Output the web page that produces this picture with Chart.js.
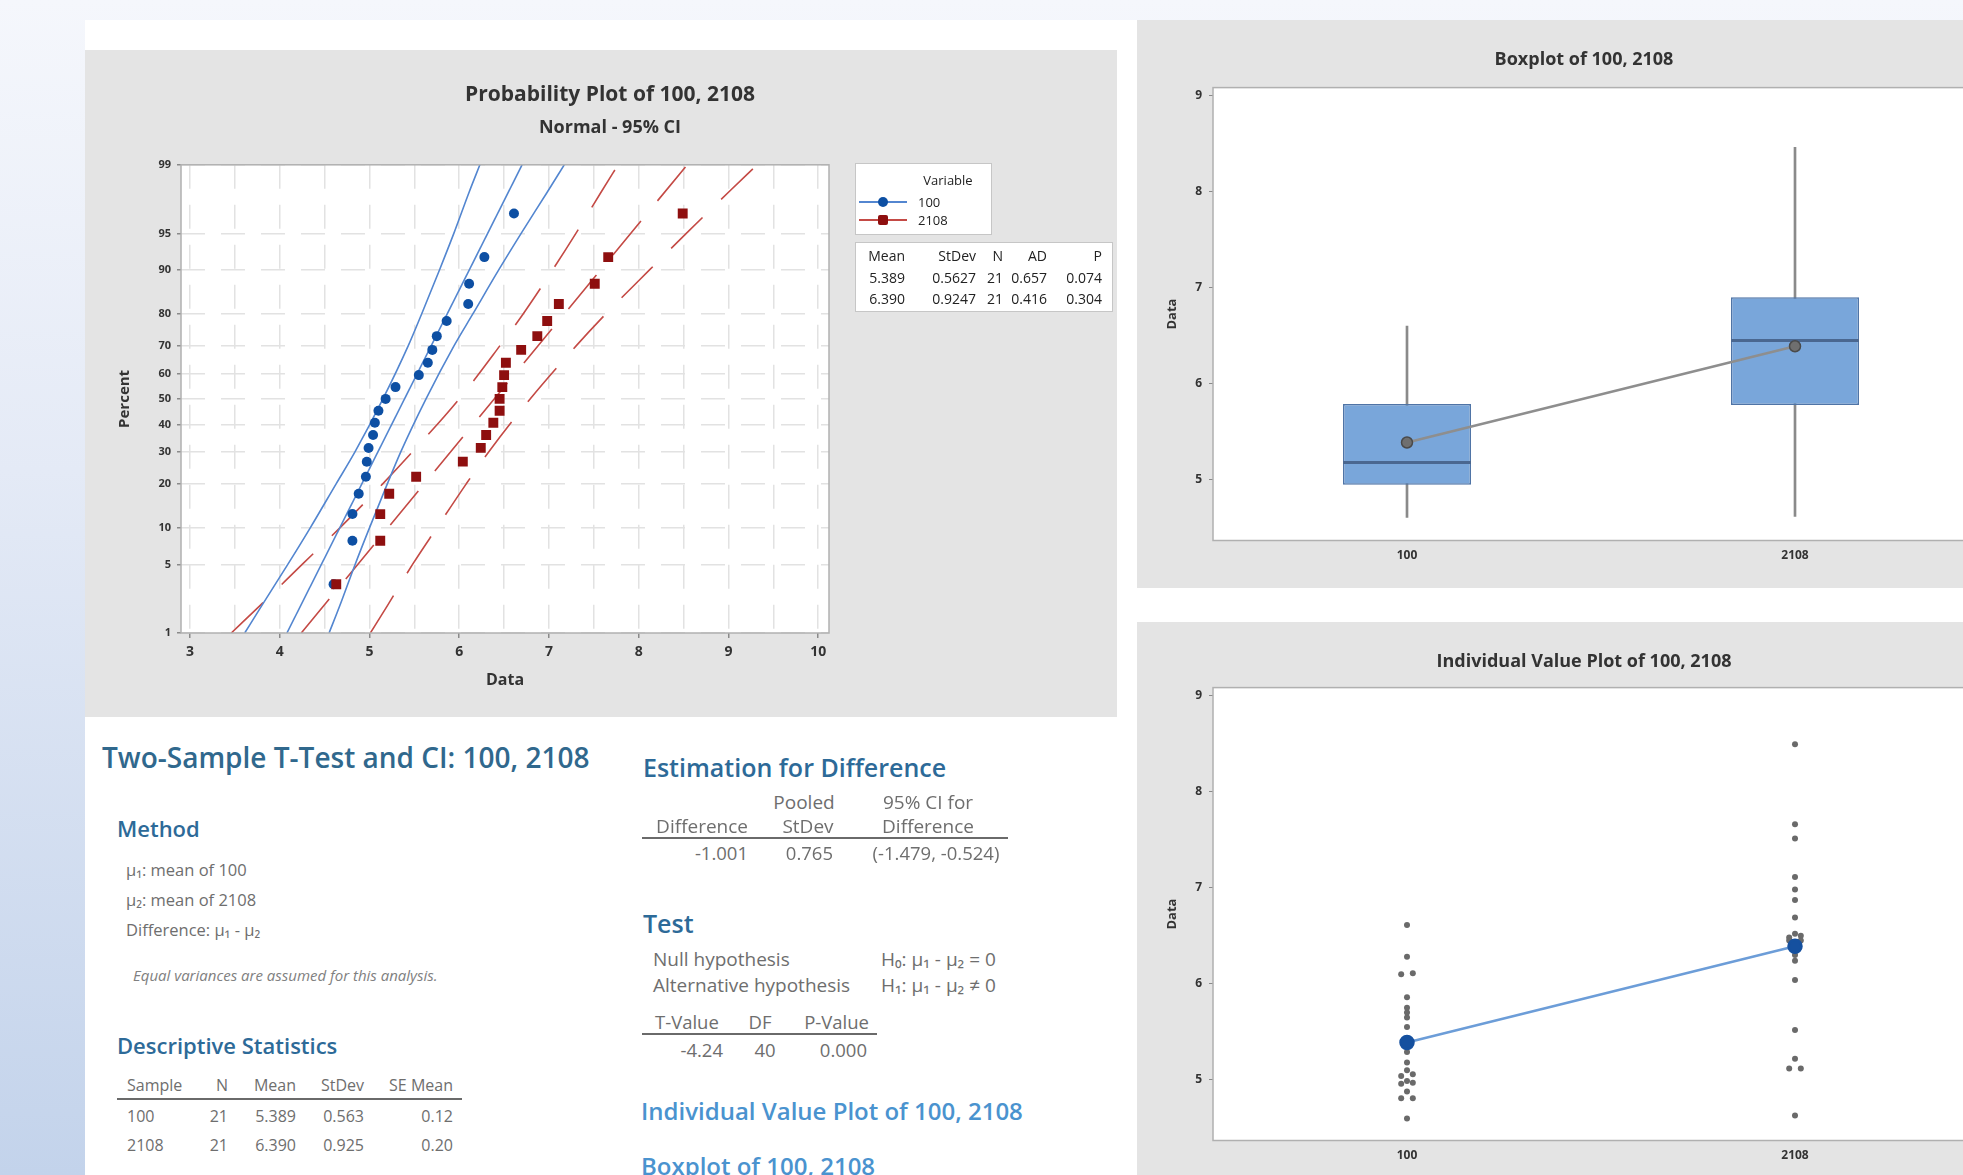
<!DOCTYPE html>
<html>
<head>
<meta charset="utf-8">
<title>Two-Sample T-Test and CI: 100, 2108</title>
<script src="https://cdn.jsdelivr.net/npm/chart.js@4.4.1/dist/chart.umd.min.js"></script>
<style>
  html, body { margin: 0; padding: 0; }
  body {
    position: relative; width: 1963px; height: 1175px; overflow: hidden;
    background: linear-gradient(to bottom, #f5f7fc 0%, #e4eaf6 40%, #c3d3eb 100%);
    font-family: "Open Sans", "Noto Sans", sans-serif;
  }
  .sheet { position: absolute; left: 85px; top: 20px; width: 1878px; height: 1155px; background: #fff; }
  .panel { position: absolute; background: #e4e4e4; }
  .wrap { position: absolute; }
  .txt { position: absolute; white-space: nowrap; line-height: 1.4; color: #6e6e6e; }
  .h1 { color: #30688d; font-weight: 600; }
  .h2 { color: #2d6a98; font-weight: 600; }
  .h3 { color: #4a93cf; font-weight: 600; }
  .it { font-style: italic; color: #808080; }
  .dark { color: #222; }
  .rule { position: absolute; height: 0; border-top: 2px solid #6a6a6a; }
  .lg { position: absolute; background: #fff; border: 1px solid #c6c6c6; box-sizing: border-box; }
  .mk { position: absolute; }
</style>
</head>
<body>
<div class="sheet"></div>
<div class="panel" style="left:85px; top:50px; width:1032px; height:667px;"></div>
<div class="panel" style="left:1137px; top:20px; width:840px; height:568px;"></div>
<div class="panel" style="left:1137px; top:622px; width:840px; height:600px;"></div>

<div class="wrap" style="left:85px; top:50px; width:1050px; height:667px;"><canvas id="probChart"></canvas></div>
<div class="wrap" style="left:1137px; top:20px; width:894px; height:568px;"><canvas id="boxChart"></canvas></div>
<div class="wrap" style="left:1137px; top:622px; width:894px; height:580px;"><canvas id="ivpChart"></canvas></div>

<div class="lg" style="left:855px; top:163px; width:137px; height:72px;"></div>
<div class="lg" style="left:855px; top:242px; width:258px; height:70px;"></div>
<div id="text"></div>

<script>
// sample values, sorted
var groups = ['100', '2108'];
var val100 = [4.60, 4.81, 4.81, 4.88, 4.96, 4.97, 4.99, 5.04, 5.06, 5.10, 5.18, 5.29, 5.55, 5.65, 5.70, 5.75, 5.86, 6.10, 6.11, 6.28, 6.61];
var val2108 = [4.63, 5.12, 5.12, 5.22, 5.52, 6.04, 6.24, 6.30, 6.38, 6.45, 6.45, 6.48, 6.50, 6.52, 6.69, 6.87, 6.98, 7.11, 7.51, 7.66, 8.49];
var plotPct = [3.27, 7.94, 12.62, 17.29, 21.96, 26.64, 31.31, 35.98, 40.65, 45.33, 50.00, 54.67, 59.35, 64.02, 68.69, 73.36, 78.04, 82.71, 87.38, 92.06, 96.73];

// fitted lines and 95% CI bands
var fitPct = [1, 99];
var fit100 = [4.08, 6.70];
var fit2108 = [4.24, 8.54];
var ciPct = [1, 2, 5, 10, 20, 30, 50, 70, 80, 90, 95, 98, 99];
var ciLow100 = [3.61, 3.80, 4.09, 4.34, 4.63, 4.84, 5.15, 5.43, 5.58, 5.78, 5.94, 6.11, 6.23];
var ciHigh100 = [4.55, 4.67, 4.84, 5.00, 5.20, 5.35, 5.63, 5.94, 6.15, 6.44, 6.69, 6.98, 7.17];
var ciLow2108 = [3.46, 3.78, 4.25, 4.67, 5.15, 5.48, 6.00, 6.45, 6.71, 7.04, 7.30, 7.58, 7.77];
var ciHigh2108 = [5.01, 5.20, 5.48, 5.75, 6.08, 6.33, 6.79, 7.30, 7.63, 8.12, 8.53, 9.00, 9.32];

// boxplot summary
var boxMin = [4.61, 4.62];
var boxQ1 = [4.95, 5.78];
var boxMed = [5.18, 6.45];
var boxQ3 = [5.79, 6.90];
var boxMax = [6.60, 8.46];
var groupMean = [5.389, 6.390];

// axis ticks
var pctTicks = [1, 5, 10, 20, 30, 40, 50, 60, 70, 80, 90, 95, 99];
var dataTicks = [3, 4, 5, 6, 7, 8, 9, 10];
var valueTicks = [5, 6, 7, 8, 9];

var blue = '#0d4fa3', blueLine = '#5386d0';
var red = '#8e0f0f', redLine = '#c44a45';
var tickFont = "'Open Sans', 'Noto Sans', sans-serif";

Chart.defaults.font.family = tickFont;
Chart.defaults.color = '#333';
Chart.defaults.animation = false;

// inverse normal cdf (Acklam)
function probit(pct) {
  var p = pct / 100;
  var a = [-39.69683028665376, 220.9460984245205, -275.9285104469687, 138.3577518672690, -30.66479806614716, 2.506628277459239];
  var b = [-54.47609879822406, 161.5858368580409, -155.6989798598866, 66.80131188771972, -13.28068155288572];
  var c = [-7.784894002430293e-03, -3.223964580411365e-01, -2.400758277161838, -2.549732539343734, 4.374664141464968, 2.938163982698783];
  var d = [7.784695709041462e-03, 3.224671290700398e-01, 2.445134137142996, 3.754408661907416];
  var q, r;
  if (p < 0.02425) {
    q = Math.sqrt(-2 * Math.log(p));
    return (((((c[0]*q+c[1])*q+c[2])*q+c[3])*q+c[4])*q+c[5]) / ((((d[0]*q+d[1])*q+d[2])*q+d[3])*q+1);
  }
  if (p > 1 - 0.02425) {
    q = Math.sqrt(-2 * Math.log(1 - p));
    return -(((((c[0]*q+c[1])*q+c[2])*q+c[3])*q+c[4])*q+c[5]) / ((((d[0]*q+d[1])*q+d[2])*q+d[3])*q+1);
  }
  q = p - 0.5; r = q * q;
  return (((((a[0]*r+a[1])*r+a[2])*r+a[3])*r+a[4])*r+a[5])*q / (((((b[0]*r+b[1])*r+b[2])*r+b[3])*r+b[4])*r+1);
}

// normal probability axis
class ProbitScale extends Chart.LinearScale {
  buildTicks() {
    return pctTicks.map(function(p) { return {value: p}; });
  }
  getPixelForValue(value) {
    var lo = probit(this.min), hi = probit(this.max);
    return this.getPixelForDecimal((probit(value) - lo) / (hi - lo));
  }
}
ProbitScale.id = 'probit';
Chart.register(ProbitScale);

// white plot area + frame
var plotFrame = {
  id: 'plotFrame',
  beforeDraw: function(chart) {
    var a = chart.chartArea, ctx = chart.ctx;
    ctx.save();
    ctx.fillStyle = '#fff';
    ctx.fillRect(a.left, a.top, a.right - a.left, a.bottom - a.top);
    ctx.restore();
  },
  afterDraw: function(chart) {
    var a = chart.chartArea, ctx = chart.ctx;
    ctx.save();
    ctx.strokeStyle = '#b0b0b0';
    ctx.lineWidth = 1.5;
    ctx.strokeRect(a.left, a.top, a.right - a.left, a.bottom - a.top);
    ctx.restore();
  }
};

function pairs(xs, ps) {
  return xs.map(function(v, i) { return {x: v, y: ps[i]}; });
}
function lineSet(xs, ps, color, dash) {
  return {data: pairs(xs, ps), showLine: true, pointRadius: 0, borderColor: color, borderWidth: 1.6,
    borderDash: dash, cubicInterpolationMode: 'monotone', fill: false};
}
function padAxis(w) {
  return {type: 'linear', position: 'right', grid: {display: false}, border: {display: false},
    ticks: {display: false}, afterFit: function(axis) { axis.width = w; }};
}

// Probability plot
var redDash = [44, 26];
new Chart(document.getElementById('probChart'), {
  type: 'scatter',
  data: {
    datasets: [
      {label: '2108', data: pairs(val2108, plotPct), pointStyle: 'rect', pointRadius: 7, backgroundColor: red, borderColor: red, borderWidth: 0},
      {label: '100', data: pairs(val100, plotPct), pointRadius: 5, backgroundColor: blue, borderColor: blue, borderWidth: 0},
      lineSet(fit100, fitPct, blueLine, []),
      lineSet(ciLow100, ciPct, blueLine, []),
      lineSet(ciHigh100, ciPct, blueLine, []),
      lineSet(fit2108, fitPct, redLine, redDash),
      lineSet(ciLow2108, ciPct, redLine, redDash),
      lineSet(ciHigh2108, ciPct, redLine, redDash)
    ]
  },
  options: {
    responsive: true, maintainAspectRatio: false, events: [],
    layout: {autoPadding: false},
    plugins: {
      legend: {display: false}, tooltip: {enabled: false},
      title: {display: true, text: 'Probability Plot of 100, 2108', color: '#333',
        font: {size: 21, weight: 'bold'}, padding: {top: 32, bottom: 4}},
      subtitle: {display: true, text: 'Normal - 95% CI', color: '#333',
        font: {size: 18, weight: 'bold'}, padding: {top: 6, bottom: 26}}
    },
    scales: {
      x: {
        type: 'linear', min: 2.9, max: 10.12,
        afterBuildTicks: function(axis) {
          var t = [];
          dataTicks.forEach(function(v) { t.push({value: v}); if (v < 10) t.push({value: v + 0.5}); });
          axis.ticks = t;
        },
        afterFit: function(axis) { axis.height = 84; },
        ticks: {font: {size: 14, weight: 'bold'}, color: '#333', padding: 6, autoSkip: false, maxRotation: 0,
          callback: function(v) { return dataTicks.indexOf(v) >= 0 ? String(v) : ''; }},
        grid: {color: '#e2e2e2', lineWidth: 1.5, tickLength: 5,
          tickColor: function(ctx) { return ctx.tick && Number.isInteger(ctx.tick.value) ? '#8a8a8a' : 'rgba(0,0,0,0)'; }},
        border: {display: false, dash: [24, 16]},
        title: {display: true, text: 'Data', color: '#333', font: {size: 16, weight: 'bold'}, padding: {top: 0, bottom: 27}}
      },
      y: {
        type: 'probit', min: 1, max: 99,
        afterFit: function(axis) { axis.width = 96; },
        ticks: {font: {size: 11, weight: 'bold'}, color: '#333', padding: 6, autoSkip: false,
          callback: function(v) { return String(v); }},
        grid: {color: '#e2e2e2', lineWidth: 1.5, tickLength: 4, tickColor: '#8a8a8a'},
        border: {display: false, dash: [24, 16]},
        title: {display: true, text: 'Percent', color: '#333', font: {size: 15, weight: 'bold'}, padding: {top: 31, bottom: 0}}
      },
      pad: padAxis(306)
    }
  },
  plugins: [plotFrame]
});

// shared value axis for the two right charts
function valueAxis() {
  return {
    type: 'linear', min: 4.37, max: 9.08,
    afterBuildTicks: function(axis) { axis.ticks = valueTicks.map(function(v) { return {value: v}; }); },
    afterFit: function(axis) { axis.width = 76; },
    ticks: {font: {size: 12, weight: 'bold'}, color: '#333', padding: 7},
    grid: {drawOnChartArea: false, tickLength: 4, tickColor: '#8a8a8a'},
    border: {display: false},
    title: {display: true, text: 'Data', color: '#333', font: {size: 13, weight: 'bold'}, padding: {top: 27, bottom: 0}}
  };
}

// Boxplot
new Chart(document.getElementById('boxChart'), {
  type: 'bar',
  data: {
    labels: groups,
    datasets: [
      {type: 'line', data: groupMean, borderColor: '#8e8e8e', borderWidth: 2.5, pointRadius: 5.5,
        pointBackgroundColor: '#6f6f6f', pointBorderColor: '#4a4a4a', pointBorderWidth: 1.5},
      {type: 'line', data: boxMed, showLine: false, pointStyle: 'line', pointRadius: 64,
        pointBorderColor: '#4a6790', pointBorderWidth: 3},
      {data: boxQ1.map(function(v, i) { return [v, boxQ3[i]]; }), backgroundColor: '#79a6da',
        borderColor: '#4f74a6', borderWidth: 1.5, borderSkipped: false, grouped: false,
        barPercentage: 0.33, categoryPercentage: 1},
      {data: boxMin.map(function(v, i) { return [v, boxMax[i]]; }), backgroundColor: '#8a8a8a',
        barThickness: 2, grouped: false}
    ]
  },
  options: {
    responsive: true, maintainAspectRatio: false, events: [],
    layout: {autoPadding: false},
    plugins: {
      legend: {display: false}, tooltip: {enabled: false},
      title: {display: true, text: 'Boxplot of 100, 2108', color: '#333',
        font: {size: 18, weight: 'bold'}, padding: {top: 29, bottom: 17}}
    },
    scales: {
      x: {
        afterFit: function(axis) { axis.height = 47.5; },
        ticks: {font: {size: 12, weight: 'bold'}, color: '#333', padding: 8},
        grid: {drawOnChartArea: false, drawTicks: false},
        border: {display: false}
      },
      y: valueAxis(),
      pad: padAxis(42)
    }
  },
  plugins: [plotFrame]
});

// Individual value plot: side-by-side placement of tied values
function spread(values, gi) {
  var pts = [], i = 0;
  while (i < values.length) {
    var j = i;
    while (j + 1 < values.length && values[j + 1] - values[i] < 0.025) j++;
    var k = j - i + 1;
    for (var m = i; m <= j; m++) pts.push({x: gi + (m - i - (k - 1) / 2) * 0.03, y: values[m]});
    i = j + 1;
  }
  return pts;
}

new Chart(document.getElementById('ivpChart'), {
  type: 'scatter',
  data: {
    datasets: [
      {data: groupMean.map(function(v, i) { return {x: i, y: v}; }), showLine: true, borderColor: '#6c9dd8',
        borderWidth: 2.5, pointRadius: 6.5, pointBackgroundColor: '#15509f', pointBorderColor: '#15509f'},
      {data: spread(val100, 0).concat(spread(val2108, 1)), pointRadius: 3,
        backgroundColor: '#6a6a6a', borderColor: '#6a6a6a', borderWidth: 0}
    ]
  },
  options: {
    responsive: true, maintainAspectRatio: false, events: [],
    layout: {autoPadding: false},
    plugins: {
      legend: {display: false}, tooltip: {enabled: false},
      title: {display: true, text: 'Individual Value Plot of 100, 2108', color: '#333',
        font: {size: 18, weight: 'bold'}, padding: {top: 29, bottom: 15}}
    },
    scales: {
      x: {
        type: 'linear', min: -0.5, max: 1.5,
        afterBuildTicks: function(axis) { axis.ticks = groups.map(function(g, i) { return {value: i}; }); },
        afterFit: function(axis) { axis.height = 61.5; },
        ticks: {font: {size: 12, weight: 'bold'}, color: '#333', padding: 8,
          callback: function(v) { return groups[v]; }},
        grid: {drawOnChartArea: false, drawTicks: false},
        border: {display: false}
      },
      y: valueAxis(),
      pad: padAxis(42)
    }
  },
  plugins: [plotFrame]
});

// legend and normality table of the probability plot
var statHead = ['Mean', 'StDev', 'N', 'AD', 'P'];
var statRows = [['5.389', '0.5627', '21', '0.657', '0.074'], ['6.390', '0.9247', '21', '0.416', '0.304']];
var statRight = [905, 976, 1003, 1047, 1102];

// session window text
var descHead = ['Sample', 'N', 'Mean', 'StDev', 'SE Mean'];
var descRows = [['100', '21', '5.389', '0.563', '0.12'], ['2108', '21', '6.390', '0.925', '0.20']];

var holder = document.getElementById('text');
function put(s, x, cy, size, cls, align) {
  var el = document.createElement('div');
  el.className = 'txt ' + (cls || '');
  el.textContent = s;
  el.style.fontSize = size + 'px';
  el.style.top = (cy - size * 0.7) + 'px';
  if (align === 'r') { el.style.left = (x - 600) + 'px'; el.style.width = '600px'; el.style.textAlign = 'right'; }
  else if (align === 'c') { el.style.left = (x - 300) + 'px'; el.style.width = '600px'; el.style.textAlign = 'center'; }
  else el.style.left = x + 'px';
  holder.appendChild(el);
}
function rule(x, y, w) {
  var el = document.createElement('div');
  el.className = 'rule';
  el.style.left = x + 'px'; el.style.top = y + 'px'; el.style.width = w + 'px';
  holder.appendChild(el);
}
function marker(cy, lineColor, dotColor, round) {
  var ln = document.createElement('div');
  ln.className = 'mk';
  ln.style.cssText = 'left:859px;top:' + (cy - 1) + 'px;width:48px;height:2px;background:' + lineColor;
  holder.appendChild(ln);
  var dot = document.createElement('div');
  dot.className = 'mk';
  dot.style.cssText = 'left:878px;top:' + (cy - 5) + 'px;width:10px;height:10px;background:' + dotColor +
    ';border-radius:' + (round ? '50%' : '2px');
  holder.appendChild(dot);
}

put('Variable', 948, 180, 13, 'dark', 'c');
marker(202, blueLine, blue, true);
put('100', 918, 202, 13, 'dark', 'l');
marker(220, redLine, red, false);
put('2108', 918, 220, 13, 'dark', 'l');
statHead.forEach(function(h, i) { put(h, statRight[i], 256, 14, 'dark', 'r'); });
statRows.forEach(function(row, r) {
  row.forEach(function(v, i) { put(v, statRight[i], 278 + r * 21, 14, 'dark', 'r'); });
});

put('Two-Sample T-Test and CI: 100, 2108', 102, 758, 28, 'h1');
put('Method', 117, 828, 22, 'h2');
put('\u03bc\u2081: mean of 100', 126, 870, 16.5);
put('\u03bc\u2082: mean of 2108', 126, 900, 16.5);
put('Difference: \u03bc\u2081 - \u03bc\u2082', 126, 930, 16.5);
put('Equal variances are assumed for this analysis.', 133, 975, 15, 'it');
put('Descriptive Statistics', 117, 1045, 22, 'h2');

var descX = [[127, 'l'], [228, 'r'], [296, 'r'], [364, 'r'], [453, 'r']];
descHead.forEach(function(h, i) { put(h, descX[i][0], 1085, 16, '', descX[i][1]); });
rule(117, 1098, 345);
descRows.forEach(function(row, r) {
  row.forEach(function(v, i) { put(v, descX[i][0], 1116 + r * 29, 16, '', descX[i][1]); });
});

put('Estimation for Difference', 643, 767, 25, 'h2');
put('Pooled', 804, 802, 19, '', 'c');
put('95% CI for', 928, 802, 19, '', 'c');
put('Difference', 748, 826, 19, '', 'r');
put('StDev', 808, 826, 19, '', 'c');
put('Difference', 928, 826, 19, '', 'c');
rule(642, 837, 366);
put('-1.001', 748, 853, 18.5, '', 'r');
put('0.765', 833, 853, 18.5, '', 'r');
put('(-1.479, -0.524)', 936, 853, 18.5, '', 'c');

put('Test', 643, 923, 25, 'h2');
put('Null hypothesis', 653, 959, 19);
put('H\u2080: \u03bc\u2081 - \u03bc\u2082 = 0', 881, 959, 19);
put('Alternative hypothesis', 653, 985, 19);
put('H\u2081: \u03bc\u2081 - \u03bc\u2082 \u2260 0', 881, 985, 19);
put('T-Value', 655, 1022, 18.5);
put('DF', 760, 1022, 18.5, '', 'c');
put('P-Value', 869, 1022, 18.5, '', 'r');
rule(642, 1033, 235);
put('-4.24', 723, 1050, 18.5, '', 'r');
put('40', 765, 1050, 18.5, '', 'c');
put('0.000', 867, 1050, 18.5, '', 'r');

put('Individual Value Plot of 100, 2108', 641, 1111, 24, 'h3');
put('Boxplot of 100, 2108', 641, 1166, 24, 'h3');
</script>
</body>
</html>
